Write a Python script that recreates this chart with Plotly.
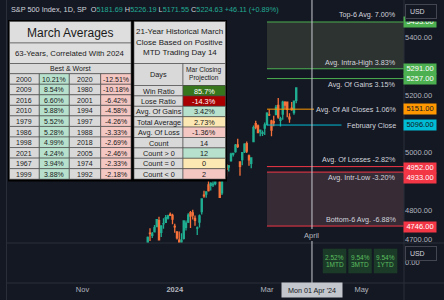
import html
import plotly.graph_objects as go

W, H = 444, 300

# ---------------- data ----------------
dates = (
    ["2023-12-%02d" % d for d in [1, 4, 5, 6, 7, 8, 11, 12, 13, 14, 15, 18, 19, 20, 21, 22, 26, 27, 28, 29]]
    + ["2024-01-%02d" % d for d in [2, 3, 4, 5, 8, 9, 10, 11, 12, 16, 17, 18, 19, 22, 23, 24, 25, 26, 29, 30, 31]]
    + ["2024-02-%02d" % d for d in [1, 2, 5, 6, 7, 8, 9, 12, 13, 14, 15, 16, 20, 21, 22, 23, 26, 27, 28, 29]]
    + ["2024-03-%02d" % d for d in [1, 4, 5, 6, 7, 8, 11, 12, 13, 14, 15, 18, 19, 20]]
)
opens = [
    4559.43, 4564.37, 4557.25, 4586.23, 4568.84, 4576.20, 4593.39, 4618.30, 4646.20, 4721.04,
    4714.23, 4725.58, 4743.72, 4764.73, 4724.29, 4753.92, 4758.86, 4773.45, 4786.44, 4782.88,
    4745.20, 4725.07, 4697.42, 4690.57, 4703.70, 4741.93, 4759.94, 4792.13, 4791.18, 4772.35,
    4739.13, 4760.10, 4796.28, 4853.42, 4856.80, 4888.56, 4886.66, 4888.91, 4892.95, 4925.89, 4899.19,
    4861.11, 4916.06, 4957.19, 4950.16, 4973.05, 4995.16, 5004.17, 5026.83, 4967.94, 4976.44,
    5003.14, 5031.13, 4989.32, 4963.03, 5038.83, 5100.92, 5093.00, 5074.60, 5067.20, 5085.36,
    5098.51, 5130.99, 5110.52, 5108.03, 5132.38, 5164.46, 5111.96, 5134.30, 5173.49, 5175.14,
    5123.31, 5154.77, 5139.09, 5181.69]
highs = [
    4599.39, 4574.06, 4578.56, 4590.74, 4590.92, 4609.23, 4623.71, 4643.93, 4709.69, 4738.57,
    4725.53, 4749.52, 4768.69, 4778.01, 4748.71, 4772.94, 4784.72, 4785.39, 4793.30, 4788.43,
    4754.33, 4729.29, 4726.78, 4721.49, 4764.54, 4765.47, 4790.80, 4798.50, 4802.40, 4782.34,
    4744.23, 4785.79, 4842.07, 4868.41, 4866.48, 4903.68, 4898.15, 4906.69, 4929.31, 4931.09, 4906.75,
    4906.97, 4975.29, 4957.19, 4957.77, 4999.89, 5000.40, 5030.06, 5048.39, 4969.95, 5002.52,
    5032.72, 5038.70, 4993.71, 4983.21, 5094.39, 5111.06, 5097.66, 5080.69, 5077.37, 5104.99,
    5140.33, 5149.67, 5114.54, 5127.97, 5165.62, 5189.26, 5124.66, 5179.87, 5179.14, 5176.85,
    5136.86, 5175.60, 5180.31, 5226.19]
lows = [
    4546.73, 4544.48, 4551.68, 4546.50, 4565.22, 4574.06, 4593.39, 4608.09, 4643.23, 4694.34,
    4704.69, 4725.58, 4743.72, 4697.82, 4708.35, 4736.77, 4758.45, 4768.90, 4780.98, 4751.99,
    4722.67, 4699.71, 4687.53, 4682.11, 4699.82, 4730.35, 4756.20, 4739.58, 4768.98, 4747.12,
    4714.82, 4740.57, 4785.87, 4844.05, 4844.37, 4865.94, 4869.34, 4881.47, 4887.40, 4916.27, 4845.15,
    4853.52, 4907.99, 4918.09, 4934.88, 4969.05, 4987.09, 5000.34, 5016.83, 4920.31, 4956.45,
    4999.44, 4999.52, 4955.02, 4946.00, 5038.83, 5081.46, 5068.91, 5057.29, 5058.35, 5061.89,
    5094.16, 5127.18, 5056.82, 5092.22, 5131.59, 5117.50, 5091.14, 5114.48, 5151.88, 5123.30,
    5104.35, 5145.47, 5131.59, 5171.55]
closes = [
    4594.63, 4569.78, 4567.18, 4549.34, 4585.59, 4604.37, 4622.44, 4643.70, 4707.09, 4719.55,
    4719.19, 4740.56, 4768.37, 4698.35, 4746.75, 4754.63, 4774.75, 4781.58, 4783.35, 4769.83,
    4742.83, 4704.81, 4688.68, 4697.24, 4763.54, 4756.50, 4783.45, 4780.24, 4783.83, 4765.98,
    4739.21, 4780.94, 4839.81, 4850.43, 4864.60, 4868.55, 4894.16, 4890.97, 4927.93, 4924.97, 4845.65,
    4906.19, 4958.61, 4942.81, 4954.23, 4995.06, 4997.91, 5026.61, 5021.84, 4953.17, 5000.62,
    5029.73, 5005.57, 4975.51, 4981.80, 5087.03, 5088.80, 5069.53, 5078.18, 5069.76, 5096.27,
    5137.08, 5130.95, 5078.65, 5104.76, 5157.36, 5123.69, 5117.94, 5175.27, 5165.31, 5150.48,
    5117.09, 5149.42, 5178.51, 5224.63]
last_change = 46.11
last_change_pct = 0.89

# bar index relative to first trading day of March 2024
time_tick_labels = ["Nov", "<b>2024</b>", "Mar", "May"]
time_tick_bars = [-82, -41, 0, 42]
marker_bar = 20               # Mon 01 Apr '24
marker_date_label = "Mon 01 Apr '24"
marker_month_label = "April"
visible_bars = [-116, 60.9]
price_range = [4687.3, 5529.2]
price_ticks = [4700, 4800, 5000, 5200, 5400]
lower_pane_value = 0.0

level_labels = ["Top-6 Avg. 7.00%", "Avg. Intra-High 3.83%", "Avg. Of Gains 3.15%",
                "Avg. Of All Closes 1.06%", "February Close", "Avg. Of Losses -2.82%",
                "Avg. Intr-Low -3.20%", "Bottom-6 Avg. -6.88%"]
level_prices = [5453.00, 5291.00, 5257.00, 5151.00, 5096.00, 4952.00, 4933.00, 4746.00]

best_years = ["2000", "2009", "2016", "2010", "1979", "1986", "1998", "2021", "1967", "1999"]
best_returns = [10.21, 8.54, 6.60, 5.88, 5.52, 5.28, 4.99, 4.24, 3.94, 3.88]
worst_years = ["2020", "1980", "2001", "1994", "1997", "1988", "2018", "2005", "1974", "1992"]
worst_returns = [-12.51, -10.18, -6.42, -4.58, -4.26, -3.33, -2.69, -2.46, -2.33, -2.18]

stat_title = ["21-Year Historical March", "Close Based on Positive", "MTD Trading Day 14"]
stat_labels = ["Win Ratio", "Lose Ratio", "Avg. Of Gains", "Total Average", "Avg. Of Loss",
               "Count", "Count > 0", "Count = 0", "Count < 0"]
stat_values = ["85.7%", "-14.3%", "3.42%", "2.73%", "-1.36%", "14", "12", "0", "2"]

perf_values = ["2.52%", "9.54%", "9.54%"]
perf_labels = ["1MTD", "3MTD", "1YTD"]

# ---------------- styles ----------------
BG = "#141823"
SEP = "#2a2e39"
AXT = "#b2b5be"
TXT = "#d1d4dc"
UP = "#1fae92"
DN = "#f7713a"
FONT = "Liberation Sans, Arial, sans-serif"
GREEN, ORANGE, CYAN, RED = "#4caf50", "#ff9800", "#00bcd4", "#f23645"
level_colors = [GREEN, GREEN, GREEN, ORANGE, CYAN, RED, RED, RED]
tag_text_colors = ["#ffffff", "#ffffff", "#ffffff", "#131722", "#131722", "#ffffff", "#ffffff", "#ffffff"]
tag_yshift = [0, 0, -0.5, 0, 0, -1.5, -5.5, -0.5]
label_yshift = [7, 6, -6, 0, 0, 7, -5.5, 7]
line_end_px = [None, None, None, 314, 341.5, None, None, None]

L_GREEN, L_RED, L_YEL, GRAY, TITLE = "#b7e1cd", "#f4c7c3", "#fce8b2", "#d9d9d9", "#dedede"
D_GREEN, D_RED = "#38761d", "#a80000"
stat_fills = [D_GREEN, D_RED, L_GREEN, L_YEL, L_RED, GRAY, L_GREEN, L_YEL, L_RED]
stat_txt = ["#ffffff", "#ffffff"] + ["#1a1a1a"] * 7
CELL_LINE = "#4a4a4a"
DARK = "#1a1a1a"

PX0, PX1 = 6, 404            # main plot horizontal extent (px)
PANE_BOTTOM, LOWER_BOTTOM = 243, 283


def px_x(px):
    return px / W


def px_y(py):
    return 1 - py / H


def bar_at(px):
    return visible_bars[0] + (px - PX0) / (PX1 - PX0) * (visible_bars[1] - visible_bars[0])


shapes, ann = [], []


def rect(x0, y0, x1, y1, fill, line=None, lw=0, layer="above"):
    shapes.append(dict(type="rect", xref="paper", yref="paper",
                       x0=px_x(x0), x1=px_x(x1), y0=px_y(y1), y1=px_y(y0),
                       fillcolor=fill, line=dict(color=line or fill, width=lw), layer=layer))


def text(xpx, ypx, s, size, color, anchor="center"):
    ann.append(dict(xref="paper", yref="paper", x=px_x(xpx), y=px_y(ypx), text=s,
                    showarrow=False, xanchor=anchor, yanchor="middle", borderpad=0,
                    font=dict(size=size, color=color, family=FONT)))


esc = html.escape
m0 = dates.index("2024-03-01")
bars = [i - m0 for i in range(len(dates))]

fig = go.Figure()

# level lines
for name, v, c, end_px in zip(level_labels, level_prices, level_colors, line_end_px):
    x_end = visible_bars[1] if end_px is None else bar_at(end_px)
    fig.add_trace(go.Scatter(x=[0, x_end], y=[v, v], mode="lines", line=dict(color=c, width=1),
                             hoverinfo="skip", xaxis="x", yaxis="y"))

fig.add_trace(go.Candlestick(
    x=bars, open=opens, high=highs, low=lows, close=closes,
    increasing=dict(line=dict(color=UP, width=1.3), fillcolor=UP),
    decreasing=dict(line=dict(color=DN, width=1.3), fillcolor=DN),
    whiskerwidth=0, hoverinfo="skip", xaxis="x", yaxis="y"))

# lower (empty) indicator pane
fig.add_trace(go.Scatter(x=visible_bars, y=[lower_pane_value, lower_pane_value], mode="lines",
                         line=dict(color="rgba(0,0,0,0)", width=0), hoverinfo="skip",
                         xaxis="x2", yaxis="y2"))

# zone fills
shapes.append(dict(type="rect", xref="x", yref="y", x0=0, x1=visible_bars[1],
                   y0=level_prices[1], y1=level_prices[0],
                   fillcolor="rgba(120,130,90,0.25)", line=dict(width=0), layer="below"))
shapes.append(dict(type="rect", xref="x", yref="y", x0=0, x1=visible_bars[1],
                   y0=level_prices[7], y1=level_prices[6],
                   fillcolor="rgba(140,90,100,0.30)", line=dict(width=0), layer="below"))

# separators
shapes.append(dict(type="line", xref="paper", yref="paper", x0=px_x(PX1), x1=px_x(PX1), y0=0, y1=1,
                   line=dict(color=SEP, width=1)))
shapes.append(dict(type="line", xref="paper", yref="paper", x0=px_x(6.5), x1=px_x(6.5), y0=0, y1=1,
                   line=dict(color=SEP, width=1)))
for yy in (PANE_BOTTOM, LOWER_BOTTOM):
    shapes.append(dict(type="line", xref="paper", yref="paper", x0=px_x(6.5), x1=1,
                       y0=px_y(yy), y1=px_y(yy), line=dict(color=SEP, width=1)))

# month marker vertical line
for y_top, y_bot in ((0, 229), (241, LOWER_BOTTOM)):
    shapes.append(dict(type="line", xref="x", yref="paper", x0=marker_bar, x1=marker_bar,
                       y0=px_y(y_bot), y1=px_y(y_top), line=dict(color="#c9cbd1", width=1),
                       layer="above"))

# level text labels
for name, v, ys in zip(level_labels, level_prices, label_yshift):
    ann.append(dict(xref="paper", yref="y", x=px_x(397), y=v, yshift=ys, text=esc(name),
                    showarrow=False, xanchor="right", yanchor="middle", borderpad=0,
                    font=dict(size=7.2, color=TXT, family=FONT)))

# price tags on axis
for v, c, tc, ys in zip(level_prices, level_colors, tag_text_colors, tag_yshift):
    ann.append(dict(xref="paper", yref="y", x=px_x(403), y=v, yshift=ys, text=f"{v:.2f}",
                    showarrow=False, xanchor="left", yanchor="middle", bgcolor=c,
                    width=32, height=9.5, borderpad=0, align="center",
                    font=dict(size=7.5, color=tc, family=FONT)))

# cover + USD buttons
ann.append(dict(xref="paper", yref="paper", x=px_x(404.5), y=px_y(0), xanchor="left", yanchor="top",
                text="&#160;", width=39, height=19.5, bgcolor=BG, borderpad=0, showarrow=False,
                font=dict(size=7, color=BG)))
for (ux, uy) in ((404.5, 4), (404.5, 246)):
    ann.append(dict(xref="paper", yref="paper", x=px_x(ux), y=px_y(uy), xanchor="left", yanchor="top",
                    text="&#160;&#160;USD", width=30, height=12.5, bgcolor=BG, bordercolor="#434651",
                    borderwidth=1, borderpad=0, align="left", showarrow=False,
                    font=dict(size=7, color=TXT, family=FONT)))

# header legend
g = "#22ab94"
hdr = (f"S&amp;P 500 Index, 1D, SP&#160;&#160;O<span style='color:{g}'>{opens[-1]:.2f}</span>"
       f" H<span style='color:{g}'>{highs[-1]:.2f}</span>"
       f" L<span style='color:{g}'>{lows[-1]:.2f}</span>"
       f" C<span style='color:{g}'>{closes[-1]:.2f}</span>"
       f" <span style='color:{g}'>+{last_change:.2f} (+{last_change_pct:.2f}%)</span>")
text(10, 9, hdr, 7.3, TXT, anchor="left")

# month marker labels
ann.append(dict(xref="x", yref="paper", x=marker_bar, y=px_y(235.5), text=marker_month_label,
                showarrow=False, xanchor="center", yanchor="middle",
                font=dict(size=7.5, color=AXT, family=FONT)))
ann.append(dict(xref="x", yref="paper", x=marker_bar, y=px_y(289.5), text=esc(marker_date_label),
                showarrow=False, xanchor="center", yanchor="middle", bgcolor="#c3c6cc",
                width=60, height=14, borderpad=0,
                font=dict(size=7.2, color="#131722", family=FONT)))

# performance boxes in lower pane
for k, (v, lb) in enumerate(zip(perf_values, perf_labels)):
    x1 = 397.3 - (len(perf_values) - 1 - k) * 25.5
    x0 = x1 - 23.5
    rect(x0, 248.7, x1, 273.3, "#1b3a28")
    text((x0 + x1) / 2, 257.3, v, 6.5, "#5cbf60")
    text((x0 + x1) / 2, 264.5, lb, 6.5, "#5cbf60")

# ---------------- left table ----------------
rect(8, 20, 227, 181.5, "#000000")
rect(9.5, 21.5, 131, 43, TITLE, CELL_LINE, 0.6)
text(70.25, 32.5, "March Averages", 12, DARK)
rect(9.5, 43, 131, 63.5, TITLE, CELL_LINE, 0.6)
text(70.25, 53.2, "63-Years, Correlated With 2024", 7.8, DARK)
rect(9.5, 63.5, 131, 73.7, GRAY, CELL_LINE, 0.6)
text(70.25, 68.8, esc("Best & Worst"), 7, DARK)
cols = [9.5, 39.3, 69.3, 100.7, 131]
row_h = 10.55
for r in range(len(best_years)):
    y0 = 73.7 + r * row_h
    y1 = y0 + row_h
    cells = [(best_years[r], GRAY), (f"{best_returns[r]:.2f}%", L_GREEN),
             (worst_years[r], GRAY), (f"{worst_returns[r]:.2f}%", L_RED)]
    for c, (s, f) in enumerate(cells):
        rect(cols[c], y0, cols[c + 1], y1, f, CELL_LINE, 0.6)
        text((cols[c] + cols[c + 1]) / 2, (y0 + y1) / 2 + 0.3, s, 7, DARK)

# ---------------- right table ----------------
rx0, rxm, rx1 = 134, 183, 225.5
rect(rx0, 21.5, rx1, 63.5, TITLE, CELL_LINE, 0.6)
for k, s in enumerate(stat_title):
    text((rx0 + rx1) / 2, 31.8 + k * 10.4, s, 8, DARK)
rect(rx0, 63.5, rxm, 85.5, GRAY, CELL_LINE, 0.6)
rect(rxm, 63.5, rx1, 85.5, GRAY, CELL_LINE, 0.6)
text((rx0 + rxm) / 2, 74.8, "Days", 7.3, DARK)
text((rxm + rx1) / 2, 70.3, "Mar Closing", 6.6, DARK)
text((rxm + rx1) / 2, 78.3, "Projection", 6.6, DARK)
srow = 10.4
for r, (lb, v) in enumerate(zip(stat_labels, stat_values)):
    y0 = 85.5 + r * srow
    y1 = y0 + srow
    rect(rx0, y0, rxm, y1, GRAY, CELL_LINE, 0.6)
    rect(rxm, y0, rx1, y1, stat_fills[r], CELL_LINE, 0.6)
    text((rx0 + rxm) / 2, (y0 + y1) / 2 + 0.3, esc(lb), 7.3, DARK)
    text((rxm + rx1) / 2, (y0 + y1) / 2 + 0.3, esc(v), 7.3, stat_txt[r])

fig.update_layout(
    template="none",
    width=W, height=H, margin=dict(l=0, r=0, t=0, b=0, pad=0),
    paper_bgcolor=BG, plot_bgcolor=BG, showlegend=False,
    xaxis=dict(domain=[px_x(PX0), px_x(PX1)], range=visible_bars, visible=False,
               rangeslider=dict(visible=False), fixedrange=True, anchor="y"),
    yaxis=dict(domain=[px_y(PANE_BOTTOM), 1], range=price_range, side="right", anchor="x",
               tickvals=price_ticks, ticktext=[f"{p:.2f}" for p in price_ticks],
               showgrid=False, zeroline=False, showline=False, ticks="",
               tickfont=dict(size=7.5, color=AXT, family=FONT), automargin=False),
    xaxis2=dict(domain=[px_x(PX0), px_x(PX1)], range=visible_bars, anchor="y2",
                tickvals=time_tick_bars, ticktext=time_tick_labels, showgrid=False,
                zeroline=False, showline=False, ticks="",
                tickfont=dict(size=7.5, color=AXT, family=FONT), automargin=False),
    yaxis2=dict(domain=[px_y(LOWER_BOTTOM), px_y(PANE_BOTTOM)], range=[-21, 19], side="right",
                anchor="x2", tickvals=[0], ticktext=["0.00"], showgrid=False, zeroline=False,
                showline=False, ticks="", tickfont=dict(size=7.5, color=AXT, family=FONT),
                automargin=False),
    shapes=shapes, annotations=ann,
)

fig.write_html("out.html", config={"displayModeBar": False})
